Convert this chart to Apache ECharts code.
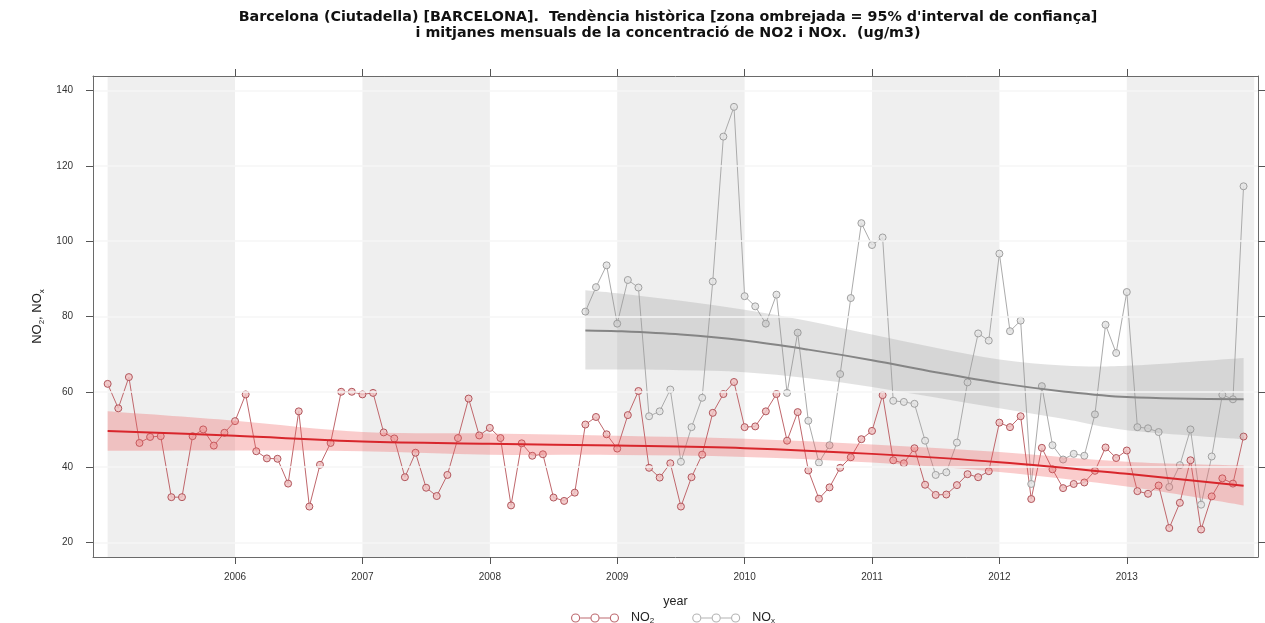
<!DOCTYPE html>
<html>
<head>
<meta charset="utf-8">
<script src="https://cdn.jsdelivr.net/npm/echarts@6/dist/echarts.min.js"></script>
<style>
html,body{margin:0;padding:0;background:#fff;}
#chart{width:1265px;height:623px;}
</style>
</head>
<body>
<div id="chart"></div>
<script>
// ---- data (monthly means, Jan 2005 .. Dec 2013) ----
const startYear = 2005;
const no2Values = [
  62.1, 55.6, 63.9, 46.4, 48.0, 48.2, 32.0, 32.0, 48.2, 50.0, 45.7, 49.1,
  52.2, 59.3, 44.2, 42.3, 42.2, 35.6, 54.8, 29.5, 40.6, 46.4, 60.0, 60.0,
  59.3, 59.7, 49.2, 47.6, 37.3, 43.8, 34.5, 32.3, 37.9, 47.7, 58.2, 48.4,
  50.4, 47.7, 29.8, 46.3, 43.0, 43.4, 31.9, 31.0, 33.2, 51.3, 53.3, 48.7,
  44.9, 53.8, 60.2, 39.8, 37.2, 41.0, 29.5, 37.3, 43.3, 54.4, 59.4, 62.6,
  50.6, 50.8, 54.8, 59.4, 47.0, 54.6, 39.1, 31.6, 34.6, 39.8, 42.6, 47.4,
  49.6, 59.1, 41.8, 41.0, 45.0, 35.3, 32.6, 32.7, 35.2, 38.1, 37.3, 38.9,
  51.8, 50.6, 53.5, 31.5, 45.1, 39.4, 34.4, 35.5, 35.9, 39.0, 45.2, 42.4,
  44.4, 33.6, 32.9, 35.1, 23.8, 30.5, 41.8, 23.4, 32.2, 37.0, 35.6, 48.1
];
// NOx starts Oct 2008 (month index 45)
const noxStartIndex = 45;
const noxValues = [
  81.3, 87.8, 93.6,
  78.1, 89.7, 87.7, 53.5, 54.8, 60.6, 41.4, 50.6, 58.4, 89.3, 127.8, 135.7,
  85.4, 82.7, 78.1, 85.8, 59.7, 75.7, 52.3, 41.2, 45.8, 64.7, 84.9, 104.8,
  99.0, 101.0, 57.6, 57.3, 56.8, 47.0, 37.9, 38.6, 46.5, 62.5, 75.5, 73.6,
  96.7, 76.1, 78.9, 35.5, 61.5, 45.8, 42.0, 43.5, 43.0, 54.0, 77.8, 70.3,
  86.5, 50.6, 50.3, 49.3, 34.7, 40.5, 50.0, 30.0, 42.8, 59.2, 58.0, 114.6
];
// Trend lines (smooth) with 95% confidence band, read at knots (decimal year)
const no2TrendX     = [2005.0, 2006.0, 2007.0, 2008.0, 2009.0, 2010.0, 2011.0, 2012.0, 2013.0, 2013.917];
const no2TrendMid   = [49.6, 48.3, 46.8, 46.2, 45.7, 45.0, 43.5, 41.3, 38.2, 35.0];
const no2TrendLow   = [44.3, 44.4, 44.2, 43.3, 43.2, 42.7, 41.2, 38.7, 34.8, 29.8];
const no2TrendHigh  = [54.8, 52.3, 49.3, 48.9, 48.3, 47.5, 46.0, 44.0, 41.4, 40.4];
const noxTrendX     = [2008.75, 2009.0, 2009.5, 2010.0, 2010.5, 2011.0, 2011.5, 2012.0, 2012.5, 2013.0, 2013.917];
const noxTrendMid   = [76.3, 76.1, 75.2, 73.6, 71.2, 68.4, 65.2, 62.3, 60.1, 58.6, 58.0];
const noxTrendLow   = [65.9, 65.9, 65.7, 65.2, 63.6, 61.3, 58.5, 55.6, 52.8, 49.8, 47.4];
const noxTrendHigh  = [87.0, 86.2, 84.2, 81.8, 78.8, 75.2, 71.7, 68.6, 67.0, 66.9, 69.0];
// axis ticks
const xTickYears = [2006, 2007, 2008, 2009, 2010, 2011, 2012, 2013];
const yTicks = [20, 40, 60, 80, 100, 120, 140];
const shadedYears = [2005, 2007, 2009, 2011, 2013];

// ---- build ----
const monthX = i => startYear + i / 12;
const no2Data = no2Values.map((v, i) => [monthX(i), v]);
const noxData = noxValues.map((v, i) => [monthX(noxStartIndex + i), v]);
const pair = (xs, ys) => xs.map((x, i) => [x, ys[i]]);

const FONT = 'Liberation Sans, Arial, sans-serif';
const X_MIN = 2004.885, X_MAX = 2014.03, Y_MIN = 16.1, Y_MAX = 143.9;

// smooth curve (Catmull-Rom -> cubic Bezier) through pixel points
function curveThrough(pts) {
  let d = '';
  for (let i = 0; i < pts.length - 1; i++) {
    const p0 = pts[i - 1] || pts[i], p1 = pts[i], p2 = pts[i + 1], p3 = pts[i + 2] || pts[i + 1];
    const c1 = [p1[0] + (p2[0] - p0[0]) / 6, p1[1] + (p2[1] - p0[1]) / 6];
    const c2 = [p2[0] - (p3[0] - p1[0]) / 6, p2[1] - (p3[1] - p1[1]) / 6];
    d += ' C' + c1[0] + ',' + c1[1] + ' ' + c2[0] + ',' + c2[1] + ' ' + p2[0] + ',' + p2[1];
  }
  return d;
}
function bandSeries(name, xs, lo, hi, fill) {
  return {
    name: name, type: 'custom', silent: true, z: 4, data: [[xs[0], lo[0]]],
    renderItem: function (params, api) {
      const up = xs.map((x, i) => api.coord([x, hi[i]]));
      const dn = xs.map((x, i) => api.coord([x, lo[i]])).reverse();
      const d = 'M' + up[0][0] + ',' + up[0][1] + curveThrough(up) +
                ' L' + dn[0][0] + ',' + dn[0][1] + curveThrough(dn) + ' Z';
      return { type: 'path', shape: { pathData: d }, style: { fill: fill, stroke: null } };
    }
  };
}

const ringIcon = 'path://M0.5,5 A4.5,4.5 0 1,1 9.5,5 A4.5,4.5 0 1,1 0.5,5 Z M1.6,5 A3.4,3.4 0 1,0 8.4,5 A3.4,3.4 0 1,0 1.6,5 Z ' +
  'M19.5,5 A4.5,4.5 0 1,1 28.5,5 A4.5,4.5 0 1,1 19.5,5 Z M20.6,5 A3.4,3.4 0 1,0 27.4,5 A3.4,3.4 0 1,0 20.6,5 Z ' +
  'M38.5,5 A4.5,4.5 0 1,1 47.5,5 A4.5,4.5 0 1,1 38.5,5 Z M39.6,5 A3.4,3.4 0 1,0 46.4,5 A3.4,3.4 0 1,0 39.6,5 Z ' +
  'M9.5,4.5 L19.5,4.5 L19.5,5.5 L9.5,5.5 Z M28.5,4.5 L38.5,4.5 L38.5,5.5 L28.5,5.5 Z';

const axisCommon = {
  type: 'value', z: 10,
  axisLine: { show: true, onZero: false, lineStyle: { color: '#6a6a6a', width: 1 } },
  axisTick: { show: true, inside: false, length: 7, lineStyle: { color: '#555' } },
  splitLine: { show: false }
};

const option = {
  animation: false,
  backgroundColor: '#ffffff',
  title: {
    text: "Barcelona (Ciutadella) [BARCELONA].  Tendència històrica [zona ombrejada = 95% d'interval de confiança]\ni mitjanes mensuals de la concentració de NO2 i NOx.  (ug/m3)",
    left: 663, top: 4, textAlign: 'center',
    textStyle: { fontFamily: 'DejaVu Sans, Liberation Sans, sans-serif', fontSize: 14.3, fontWeight: 'bold', color: '#111', lineHeight: 16 }
  },
  legend: {
    left: 566, top: 606, itemWidth: 48, itemHeight: 10, itemGap: 38,
    data: [
      { name: 'NO2', icon: ringIcon, itemStyle: { color: '#bd6a70', borderWidth: 0 } },
      { name: 'NOx', icon: ringIcon, itemStyle: { color: '#b4b4b4', borderWidth: 0 } }
    ],
    formatter: n => n === 'NO2' ? 'NO{s|2}' : 'NO{s|x}',
    textStyle: {
      fontFamily: FONT, fontSize: 12.5, color: '#222', lineHeight: 14, padding: [0, 0, 0, 7],
      rich: { s: { fontFamily: FONT, fontSize: 8, color: '#222', verticalAlign: 'bottom', lineHeight: 14, padding: [5, 0, 0, 0] } }
    }
  },
  grid: { left: 93, right: 7, top: 76, bottom: 66, containLabel: false },
  xAxis: [
    Object.assign({}, axisCommon, {
      min: X_MIN, max: X_MAX, position: 'bottom',
      name: 'year', nameLocation: 'middle', nameGap: 38,
      nameTextStyle: { fontFamily: FONT, fontSize: 12.5, color: '#222' },
      axisTick: Object.assign({}, axisCommon.axisTick, { customValues: xTickYears }),
      axisLabel: { customValues: xTickYears, formatter: v => String(Math.round(v)), fontFamily: FONT, fontSize: 10, color: '#333', margin: 15 }
    }),
    Object.assign({}, axisCommon, {
      min: X_MIN, max: X_MAX, position: 'top',
      axisTick: Object.assign({}, axisCommon.axisTick, { customValues: xTickYears }),
      axisLabel: { show: false }
    })
  ],
  yAxis: [
    Object.assign({}, axisCommon, {
      min: Y_MIN, max: Y_MAX, position: 'left',
      name: 'NO{s|2}, NO{s|x}', nameLocation: 'middle', nameGap: 47,
      nameTextStyle: {
        fontFamily: FONT, fontSize: 13, color: '#222', lineHeight: 15,
        rich: { s: { fontFamily: FONT, fontSize: 8, color: '#222', verticalAlign: 'bottom', lineHeight: 15, padding: [4, 0, 0, 0] } }
      },
      axisTick: Object.assign({}, axisCommon.axisTick, { customValues: yTicks }),
      axisLabel: { customValues: yTicks, fontFamily: FONT, fontSize: 10, color: '#333', margin: 20 }
    }),
    Object.assign({}, axisCommon, {
      min: Y_MIN, max: Y_MAX, position: 'right',
      axisTick: Object.assign({}, axisCommon.axisTick, { customValues: yTicks }),
      axisLabel: { show: false }
    })
  ],
  series: [
    {
      name: 'bg', type: 'line', data: [], z: 0, silent: true,
      markArea: {
        silent: true,
        itemStyle: { color: '#efefef' },
        data: shadedYears.map(y => [{ xAxis: y }, { xAxis: y + 1 }])
      },
      markLine: {
        silent: true, symbol: 'none', label: { show: false },
        lineStyle: { color: '#f6f6f6', width: 1.5, type: 'solid' },
        data: yTicks.map(v => ({ yAxis: v }))
      }
    },
    {
      name: 'NOx', type: 'line', data: noxData, z: 3,
      symbol: 'circle', symbolSize: 7,
      lineStyle: { color: '#ababab', width: 1 },
      itemStyle: { color: 'rgba(228,228,228,0.85)', borderColor: '#a0a0a0', borderWidth: 1 }
    },
    {
      name: 'NO2', type: 'line', data: no2Data, z: 3,
      symbol: 'circle', symbolSize: 7,
      lineStyle: { color: '#c0676c', width: 1 },
      itemStyle: { color: 'rgba(240,195,195,0.85)', borderColor: '#b2565c', borderWidth: 1 }
    },
    bandSeries('noxBand', noxTrendX, noxTrendLow, noxTrendHigh, 'rgba(150,150,150,0.28)'),
    {
      name: 'noxTrend', type: 'line', data: pair(noxTrendX, noxTrendMid), z: 5,
      smooth: 0.35, symbol: 'none', silent: true, lineStyle: { color: '#858585', width: 2 }
    },
    bandSeries('no2Band', no2TrendX, no2TrendLow, no2TrendHigh, 'rgba(240,95,95,0.32)'),
    {
      name: 'no2Trend', type: 'line', data: pair(no2TrendX, no2TrendMid), z: 5,
      smooth: 0.35, symbol: 'none', silent: true, lineStyle: { color: '#d8262c', width: 2 }
    }
  ]
};

const chart = echarts.init(document.getElementById('chart'), null, { renderer: 'canvas' });
chart.setOption(option);
</script>
</body>
</html>
